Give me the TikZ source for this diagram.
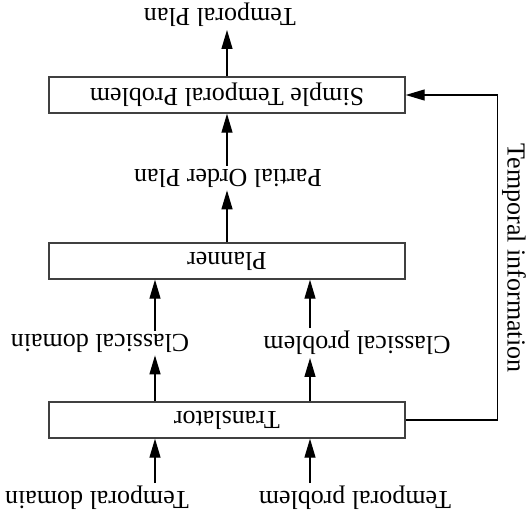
\documentclass[tikz,border=0pt]{standalone}
\usepackage{fontspec}
\setmainfont{Liberation Serif}
\usetikzlibrary{arrows.meta}
\begin{document}
\begin{tikzpicture}[x=1pt,y=-1pt,
  txt/.style={font=\fontsize{26}{31}\selectfont},
  stage/.style={txt, draw=black!75, line width=1.4pt, minimum width=356pt,
    minimum height=36pt, inner sep=0pt},
  lbl/.style={txt, inner sep=3pt},
  flow/.style={line width=1.3pt, -{Triangle[length=19pt,width=11pt]}}]
\useasboundingbox (0,0) rectangle (527,520);

% processing stages (text set upside down)
\node[stage] (stp)     at (227,95)  {\rotatebox{180}{Simple Temporal Problem}};
\node[stage] (planner) at (227,261) {\rotatebox{180}{Planner}};
\node[stage] (trans)   at (227,420) {\rotatebox{180}{Translator}};

% data labels
\node[lbl] (tplan) at (220,15)  {\rotatebox{180}{Temporal Plan}};
\node[lbl] (pop)   at (228,178) {\rotatebox{180}{Partial Order Plan}};
\node[lbl] (cdom)  at (100,343) {\rotatebox{180}{Classical domain}};
\node[lbl] (cprob) at (357,343) {\rotatebox{180}{Classical problem}};
\node[lbl] (tdom)  at (97,498)  {\rotatebox{180}{Temporal domain}};
\node[lbl] (tprob) at (355,498) {\rotatebox{180}{Temporal problem}};
\node[txt, rotate=-90] (tinfo) at (514,258) {Temporal information};

% main flow
\draw[flow] (stp.north) -- (stp.north |- tplan.south);
\draw[flow] (stp.south |- pop.north) -- (stp.south);
\draw[flow] (planner.north) -- (planner.north |- pop.south);
\draw[flow] (155,0 |- cdom.north) -- (155,0 |- planner.south);
\draw[flow] (310,0 |- cprob.north) -- (310,0 |- planner.south);
\draw[flow] (155,0 |- trans.north) -- (155,0 |- cdom.south);
\draw[flow] (310,0 |- trans.north) -- (310,0 |- cprob.south);
\draw[flow] (155,0 |- tdom.north) -- (155,0 |- trans.south);
\draw[flow] (310,0 |- tprob.north) -- (310,0 |- trans.south);

% feedback of temporal information
\draw[flow] (trans.east) -- ++(92,0) |- (stp.east);
\end{tikzpicture}
\end{document}
